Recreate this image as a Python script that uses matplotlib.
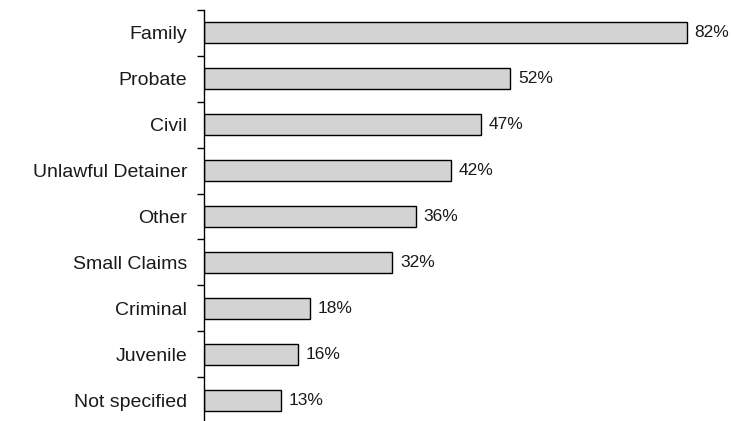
import matplotlib
matplotlib.use("Agg")
import matplotlib.pyplot as plt
import numpy as np

categories = ["Family", "Probate", "Civil", "Unlawful Detainer", "Other",
              "Small Claims", "Criminal", "Juvenile", "Not specified"]
values = [82, 52, 47, 42, 36, 32, 18, 16, 13]

W, H = 732, 421
fig = plt.figure(figsize=(W / 100, H / 100), dpi=100)
ax = fig.add_axes([204 / W, -2 / H, (W - 204) / W, 413 / H])

y = np.arange(len(categories))
ax.barh(y, values, height=0.46, color="#d3d3d3", edgecolor="black", linewidth=1)

for yi, v in zip(y, values):
    ax.text(v + 1.3, yi, f"{v}%", va="center", ha="left",
            fontsize=12.5, family="Liberation Sans", color="#1a1a1a")

ax.set_xlim(0, (W - 204) / 5.89)
ax.set_ylim(len(categories) - 0.5, -0.5)

ax.set_yticks(y)
ax.set_yticklabels(categories, family="Liberation Sans", fontsize=14, color="#1a1a1a")
ax.tick_params(axis="y", which="major", length=0, pad=12)
ax.set_yticks(np.arange(len(categories) + 1) - 0.5, minor=True)
ax.tick_params(axis="y", which="minor", length=5, width=1, direction="out")

ax.set_xticks([])
for s in ["top", "right", "bottom"]:
    ax.spines[s].set_visible(False)
ax.spines["left"].set_linewidth(1)

fig.savefig("out.png", dpi=100)
